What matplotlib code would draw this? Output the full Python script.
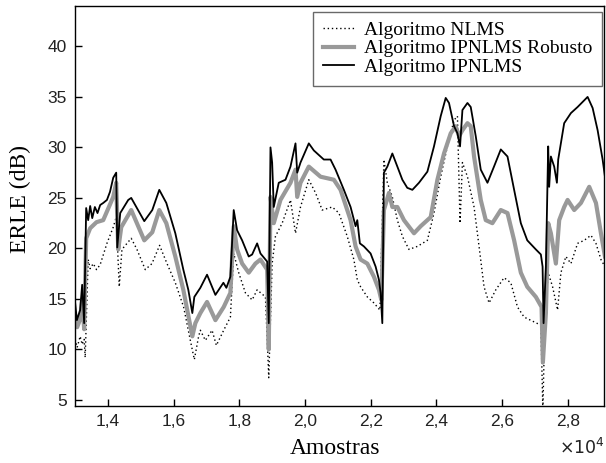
import matplotlib
matplotlib.use("Agg")
import matplotlib.pyplot as plt
from matplotlib.ticker import FuncFormatter

# ERLE curves (samples, dB)
ipnlms_x = [13000, 13052, 13152, 13213, 13274, 13335, 13396, 13457, 13520, 13600,
            13680, 13762, 13854, 13967, 14060, 14159, 14250, 14281, 14372, 14616,
            14707, 15104, 15348, 15561, 15775, 16049, 16293, 16445, 16567, 16628,
            16811, 17015, 17269, 17513, 17604, 17726, 17827, 17930, 18083, 18284,
            18388, 18540, 18641, 18845, 18894, 18946, 18997, 19046, 19198, 19403,
            19555, 19708, 19760, 19860, 20113, 20266, 20570, 20775, 20927, 21181,
            21385, 21537, 21589, 21668, 21790, 21994, 22147, 22248, 22299, 22351,
            22400, 22504, 22656, 22809, 22961, 23111, 23266, 23467, 23723, 23924,
            24129, 24281, 24381, 24535, 24638, 24717, 24790, 24943, 25043, 25196,
            25348, 25552, 25751, 25958, 26162, 26364, 26568, 26764, 27025, 27178,
            27230, 27260, 27331, 27401, 27431, 27483, 27584, 27666, 27706, 27888,
            28093, 28296, 28601, 28754, 28906, 29058, 29129]
ipnlms_y = [14.6, 12.9, 13.9, 16.4, 12.6, 24.0, 22.8, 24.2, 23.0, 24.1,
            23.5, 24.3, 24.5, 24.8, 25.6, 27.0, 27.5, 20.1, 23.5, 24.8,
            25.0, 22.7, 23.8, 25.8, 24.5, 21.5, 17.9, 15.9, 13.6, 15.2,
            16.1, 17.4, 15.4, 16.6, 16.1, 17.2, 23.8, 21.8, 20.8, 19.2,
            19.4, 20.5, 19.5, 18.7, 12.6, 30.0, 28.5, 24.1, 26.5, 26.8,
            28.1, 30.4, 27.5, 28.5, 30.4, 29.7, 28.8, 28.8, 27.8, 25.8,
            24.1, 22.2, 22.8, 20.5, 20.2, 19.5, 18.2, 16.9, 15.6, 12.6,
            27.5, 28.1, 29.4, 28.1, 26.8, 26.0, 25.8, 26.5, 27.6, 30.1,
            33.1, 34.9, 34.4, 32.1, 31.4, 30.1, 33.7, 34.4, 34.0, 31.1,
            27.8, 26.5, 28.1, 29.8, 29.1, 25.8, 22.5, 20.8, 19.9, 19.4,
            18.2, 12.6, 18.2, 30.1, 26.1, 29.1, 28.1, 26.5, 28.8, 32.4,
            33.4, 34.0, 35.0, 33.9, 31.7, 28.8, 27.1]

robust_x = [13000, 13061, 13152, 13213, 13274, 13335, 13457, 13650, 13854, 14159,
            14250, 14311, 14403, 14707, 15104, 15348, 15561, 15775, 16049, 16293,
            16567, 16659, 16811, 17015, 17269, 17522, 17726, 17827, 17930, 18083,
            18284, 18488, 18641, 18845, 18894, 18946, 19046, 19250, 19555, 19708,
            19760, 19860, 20113, 20470, 20876, 21080, 21385, 21537, 21690, 21894,
            22095, 22248, 22321, 22400, 22553, 22656, 22809, 23010, 23316, 23519,
            23824, 24028, 24229, 24434, 24586, 24687, 24790, 24943, 25043, 25144,
            25348, 25500, 25702, 25958, 26162, 26364, 26568, 26764, 27025, 27199,
            27239, 27331, 27401, 27483, 27635, 27736, 27888, 27992, 28193, 28397,
            28650, 28855, 29007, 29129]
robust_y = [13.4, 12.2, 13.0, 15.0, 12.0, 21.0, 22.0, 22.6, 22.8, 25.1,
            26.5, 19.9, 22.1, 23.8, 20.8, 21.6, 23.8, 22.5, 19.2, 15.9,
            11.3, 12.6, 13.6, 14.7, 12.9, 14.2, 15.6, 22.2, 19.9, 18.5,
            17.6, 18.5, 18.9, 17.9, 10.0, 25.1, 22.5, 24.8, 26.5, 27.8,
            25.1, 26.5, 28.1, 27.1, 26.8, 25.8, 22.8, 20.2, 18.9, 18.5,
            17.2, 15.9, 14.9, 23.8, 25.5, 24.1, 24.1, 22.8, 21.5, 22.2,
            23.1, 26.8, 29.4, 31.4, 32.1, 31.1, 31.7, 32.4, 32.1, 29.1,
            24.8, 22.8, 22.5, 23.8, 23.5, 20.8, 17.6, 16.2, 15.2, 14.2,
            8.7, 13.6, 22.5, 21.5, 18.5, 22.8, 24.1, 24.8, 23.8, 24.5,
            26.1, 24.5, 21.5, 19.2]

nlms_x = [13000, 13061, 13152, 13213, 13274, 13305, 13396, 13457, 13550, 13650,
          13762, 13967, 14159, 14250, 14342, 14424, 14707, 14881, 15134, 15339,
          15570, 15796, 16049, 16302, 16506, 16628, 16759, 16811, 16964, 17168,
          17299, 17522, 17726, 17827, 17979, 18183, 18388, 18540, 18793, 18894,
          18997, 19098, 19302, 19555, 19708, 19860, 20113, 20318, 20521, 20827,
          21030, 21283, 21485, 21589, 21690, 21894, 22095, 22278, 22400, 22504,
          22656, 22809, 22961, 23162, 23418, 23723, 23924, 24129, 24332, 24535,
          24638, 24717, 24790, 24943, 25144, 25296, 25448, 25601, 25806, 26058,
          26263, 26466, 26668, 26925, 27178, 27239, 27300, 27401, 27535, 27687,
          27788, 27940, 28093, 28296, 28498, 28702, 28855, 29007, 29129]
nlms_y = [11.0, 10.2, 11.3, 10.5, 11.0, 9.2, 18.9, 18.0, 18.5, 17.9,
          18.4, 20.5, 22.1, 23.1, 16.2, 19.9, 21.0, 19.9, 17.9, 18.5,
          20.3, 18.5, 16.6, 14.2, 10.9, 9.0, 11.3, 11.9, 10.9, 11.9,
          10.4, 11.9, 13.2, 19.5, 17.6, 15.6, 14.9, 15.9, 15.2, 7.2,
          18.5, 21.2, 22.5, 24.8, 21.5, 24.1, 26.8, 25.5, 23.8, 24.1,
          23.5, 21.2, 18.9, 16.9, 16.2, 15.2, 14.6, 13.9, 28.8, 26.5,
          25.1, 22.8, 21.2, 19.9, 20.2, 20.8, 23.5, 27.1, 30.1, 32.7,
          33.1, 22.5, 28.5, 27.1, 24.1, 20.2, 16.2, 14.6, 15.9, 17.1,
          16.6, 14.2, 13.2, 12.8, 12.4, 4.0, 12.9, 17.6, 16.2, 13.9,
          17.6, 19.2, 18.5, 20.5, 20.8, 21.3, 20.5, 18.9, 18.2]

labels = ["Algoritmo NLMS", "Algoritmo IPNLMS Robusto", "Algoritmo IPNLMS"]
xticks = [14000, 16000, 18000, 20000, 22000, 24000, 26000, 28000]
yticks = [5, 10, 15, 20, 25, 30, 35, 40]

serif = "Liberation Serif"
sans = "Liberation Sans"

fig = plt.figure(figsize=(6.06, 4.63), dpi=100)
ax = fig.add_axes([75 / 606, 1 - 406 / 463, 529 / 606, 400 / 463])

ax.plot(nlms_x, nlms_y, color="black", lw=1.0, ls=(0, (1, 2)), label=labels[0])
ax.plot(robust_x, robust_y, color="#999999", lw=3.0, label=labels[1])
ax.plot(ipnlms_x, ipnlms_y, color="black", lw=1.3, label=labels[2])

ax.set_xlim(12995, 29100)
ax.set_ylim(4.4, 44.0)
ax.set_xticks(xticks)
ax.set_yticks(yticks)
ax.xaxis.set_major_formatter(FuncFormatter(lambda v, p: ("%.1f" % (v / 1e4)).replace(".", ",")))
ax.tick_params(direction="in", length=5, width=1, top=False, right=False,
               labelsize=12.5, pad=6)
for lab in ax.get_xticklabels() + ax.get_yticklabels():
    lab.set_fontfamily(sans)
    lab.set_color("#222222")
for s in ax.spines.values():
    s.set_linewidth(1.0)

ax.set_xlabel("Amostras", fontfamily=serif, fontsize=17)
ax.set_ylabel("ERLE (dB)", fontfamily=serif, fontsize=17)
ax.xaxis.set_label_coords((335 - 75) / 529, -(438 - 406) / 400)
ax.yaxis.set_label_coords(-(75 - 31) / 529, (406 - 199) / 400)
fig.text(605 / 606, 1 - 447 / 463, r"$\times10^{4}$", ha="right", va="center",
         fontfamily=sans, fontsize=12.5, color="#222222")

leg = ax.legend(loc="upper right", bbox_to_anchor=(602 / 606, 1 - 11.5 / 463),
                bbox_transform=fig.transFigure, borderaxespad=0, fancybox=False,
                prop={"family": serif, "size": 14}, handlelength=1.6,
                labelspacing=0.05, borderpad=0.5, handletextpad=0.5)
leg.get_frame().set_edgecolor("#444444")
leg.get_frame().set_linewidth(1.0)

fig.savefig("out.png", dpi=100)
